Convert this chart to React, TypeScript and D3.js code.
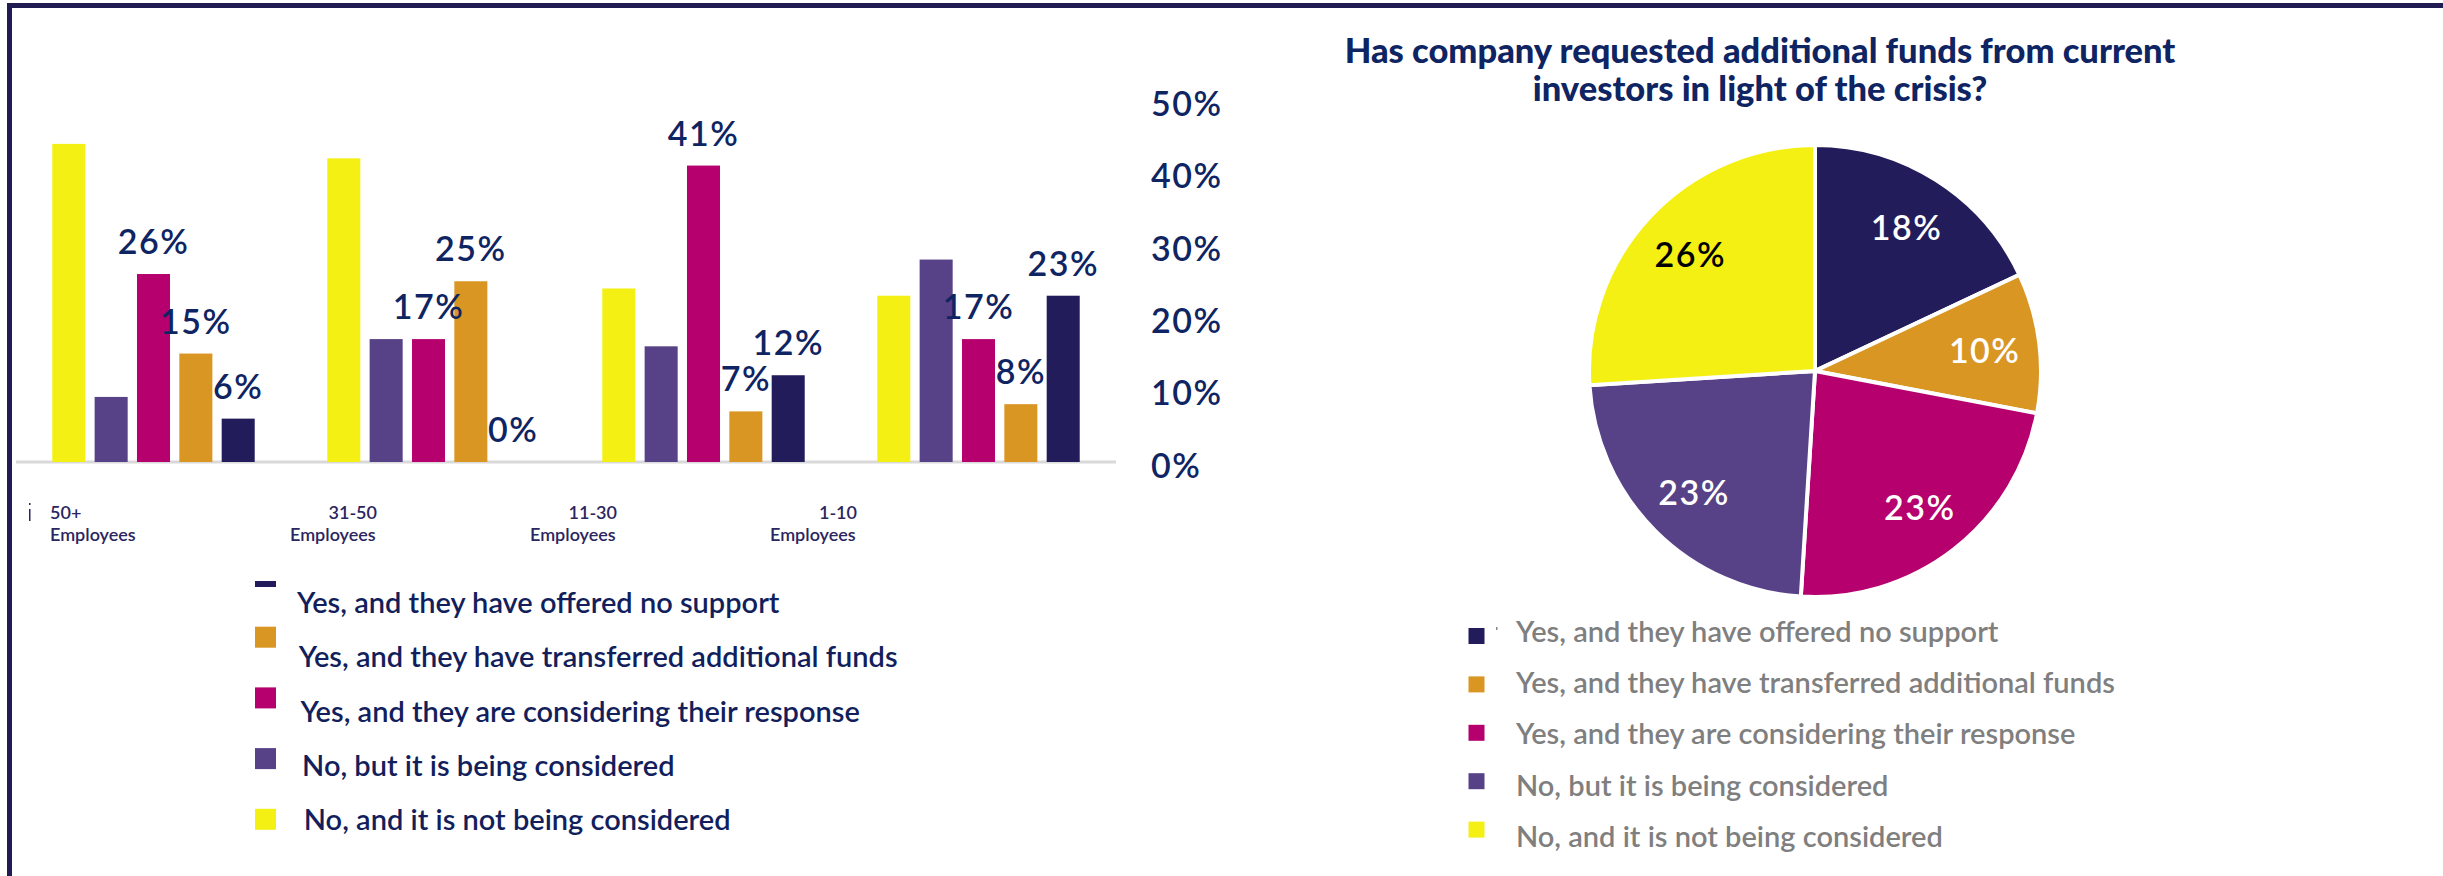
import React, { useEffect } from "react";
import * as d3 from "d3";

// ---------- DATA ----------
const groupTop = ["50+", "31-50", "11-30", "1-10"];
const groupBottom = "Employees";
const seriesKeys = ["notConsidered", "beingConsidered", "consideringResponse", "transferred", "noSupport"];
const seriesNames: Record<string, string> = {
  noSupport: "Yes, and they have offered no support",
  transferred: "Yes, and they have transferred additional funds",
  consideringResponse: "Yes, and they are considering their response",
  beingConsidered: "No, but it is being considered",
  notConsidered: "No, and it is not being considered",
};
const notConsidered = [44, 42, 24, 23];
const beingConsidered = [9, 17, 16, 28];
const consideringResponse = [26, 17, 41, 17];
const transferred = [15, 25, 7, 8];
const noSupport = [6, 0, 12, 23];
const labeledSeries = ["consideringResponse", "transferred", "noSupport"];
const yTicks = [0, 10, 20, 30, 40, 50];

const legendOrder = ["noSupport", "transferred", "consideringResponse", "beingConsidered", "notConsidered"];
const pieKeys = ["noSupport", "transferred", "consideringResponse", "beingConsidered", "notConsidered"];
const pieValues = [18, 10, 23, 23, 26];
const pieTitle = ["Has company requested additional funds from current", "investors in light of the crisis?"];

const colors: Record<string, string> = {
  noSupport: "#221d5a",
  transferred: "#d99623",
  consideringResponse: "#b5006e",
  beingConsidered: "#574287",
  notConsidered: "#f4f014",
};

const seriesValues: Record<string, number[]> = {
  notConsidered,
  beingConsidered,
  consideringResponse,
  transferred,
  noSupport,
};

const NAVY_TEXT = "#0f2462";
const LEG_FONT = "Lato, 'Liberation Sans', Arial, sans-serif";
const NUM_FONT = "Lato, 'DejaVu Sans', sans-serif";

export default function App() {
  useEffect(() => {
    document.body.style.margin = "0";
  }, []);

  const W = 2443;
  const H = 876;

  const x0 = d3.scaleBand<string>().domain(groupTop).range([16, 1116]).paddingInner(0.23).paddingOuter(0.115);
  const x1 = d3.scaleBand<string>().domain(seriesKeys).range([0, x0.bandwidth()]).paddingInner(0.22).paddingOuter(0.11);
  const y = d3.scaleLinear().domain([0, 50]).range([462, 100.5]);

  const legY = d3.scaleLinear().domain([0, 1]).range([566, 626.7]);
  const legTextY = d3.scaleLinear().domain([0, 1]).range([613, 667.25]);

  const pieLegY = d3.scaleLinear().domain([0, 1]).range([628, 676.4]);
  const pieLegTextY = d3.scaleLinear().domain([0, 1]).range([642, 693.2]);

  const labelX = d3.scaleLinear().domain([0, 1]).range([50, 290]);

  const cx = 1815;
  const cy = 371;
  const R = 226;
  const pie = d3.pie<number>().sort(null).value((d) => d);
  const arcs = pie(pieValues);
  const arc = d3.arc<d3.PieArcDatum<number>>().innerRadius(0).outerRadius(R);
  const labelArc = d3.arc<d3.PieArcDatum<number>>().innerRadius(171).outerRadius(171);

  const numStyle = { letterSpacing: "1.5px" } as React.CSSProperties;

  return (
    <svg width={W} height={H} style={{ display: "block", background: "#fff" }}>
      <defs>
        <clipPath id="legclip">
          <rect x={0} y={581} width={1200} height={300} />
        </clipPath>
      </defs>
      {/* frame */}
      <rect x={7} y={3} width={W - 7} height={5} fill="#201c52" />
      <rect x={7} y={3} width={5} height={H - 3} fill="#201c52" />

      {/* baseline */}
      <line x1={16} x2={1116} y1={y(0)} y2={y(0)} stroke="#d9d9d9" strokeWidth={3} />

      {/* bars */}
      {groupTop.map((g, gi) => (
        <g key={g} transform={`translate(${x0(g)},0)`}>
          {seriesKeys.map((k) => {
            const v = seriesValues[k][gi];
            return (
              <rect key={k} x={x1(k)} y={y(v)} width={x1.bandwidth()} height={y(0) - y(v)} fill={colors[k]} />
            );
          })}
          {labeledSeries.map((k) => {
            const v = seriesValues[k][gi];
            return (
              <text
                key={k}
                x={(x1(k) as number) + x1.bandwidth() / 2}
                y={y(v) - 20}
                textAnchor="middle"
                fontFamily={NUM_FONT}
                fontWeight={600}
                fontSize={34}
                fill={NAVY_TEXT}
                style={numStyle}
              >
                {v}%
              </text>
            );
          })}
        </g>
      ))}

      {/* y ticks (right) */}
      {yTicks.map((t) => (
        <text
          key={t}
          x={1151}
          y={y(t) + 2}
          dominantBaseline="central"
          fontFamily={NUM_FONT}
          fontWeight={600}
          fontSize={34}
          fill={NAVY_TEXT}
          style={numStyle}
        >
          {t}%
        </text>
      ))}

      {/* x labels */}
      <rect x={29} y={503} width={1.5} height={2} fill="#2b2560" />
      <rect x={29} y={509} width={1.5} height={12} fill="#2b2560" />
      {groupTop.map((g, i) => {
        const lx = labelX(i);
        const empW = 87;
        return (
          <g key={g} fontFamily={LEG_FONT} fontWeight={600} fontSize={18} fill="#2b2560">
            <text x={i === 0 ? lx : lx + empW} y={519} textAnchor={i === 0 ? "start" : "end"}>
              {g}
            </text>
            <text x={lx} y={541}>
              {groupBottom}
            </text>
          </g>
        );
      })}

      {/* left legend */}
      <g clipPath="url(#legclip)">
        {legendOrder.map((k, i) => (
          <rect key={k} x={255} y={legY(i)} width={21} height={21} fill={colors[k]} />
        ))}
      </g>
      {legendOrder.map((k, i) => (
        <text key={k} x={297 + i * 1.7} y={legTextY(i)} fontFamily={LEG_FONT} fontWeight={600} fontSize={29} fill="#121f5c">
          {seriesNames[k]}
        </text>
      ))}

      {/* pie title */}
      {pieTitle.map((t, i) => (
        <text
          key={i}
          x={1760}
          y={63 + i * 37.5}
          textAnchor="middle"
          fontFamily={LEG_FONT}
          fontWeight={900}
          fontSize={34.5}
          fill={NAVY_TEXT}
        >
          {t}
        </text>
      ))}

      {/* pie */}
      <g transform={`translate(${cx},${cy})`}>
        {arcs.map((a, i) => (
          <path key={i} d={arc(a) as string} fill={colors[pieKeys[i]]} stroke="#fff" strokeWidth={4} />
        ))}
        {arcs.map((a, i) => {
          const [lx, ly] = labelArc.centroid(a);
          return (
            <text
              key={"l" + i}
              x={lx}
              y={ly}
              textAnchor="middle"
              dominantBaseline="central"
              fontFamily={NUM_FONT}
              fontWeight={600}
              fontSize={34}
              fill={pieKeys[i] === "notConsidered" ? "#000" : "#fff"}
              style={numStyle}
            >
              {a.data}%
            </text>
          );
        })}
      </g>

      {/* pie legend */}
      <rect x={1496} y={627} width={1.5} height={3} fill="#888" />
      {legendOrder.map((k, i) => (
        <g key={k}>
          <rect x={1468.5} y={pieLegY(i)} width={16} height={16} fill={colors[k]} />
          <text x={1516} y={pieLegTextY(i)} fontFamily={LEG_FONT} fontWeight={600} fontSize={29} fill="#7f7f7f">
            {seriesNames[k]}
          </text>
        </g>
      ))}
    </svg>
  );
}
